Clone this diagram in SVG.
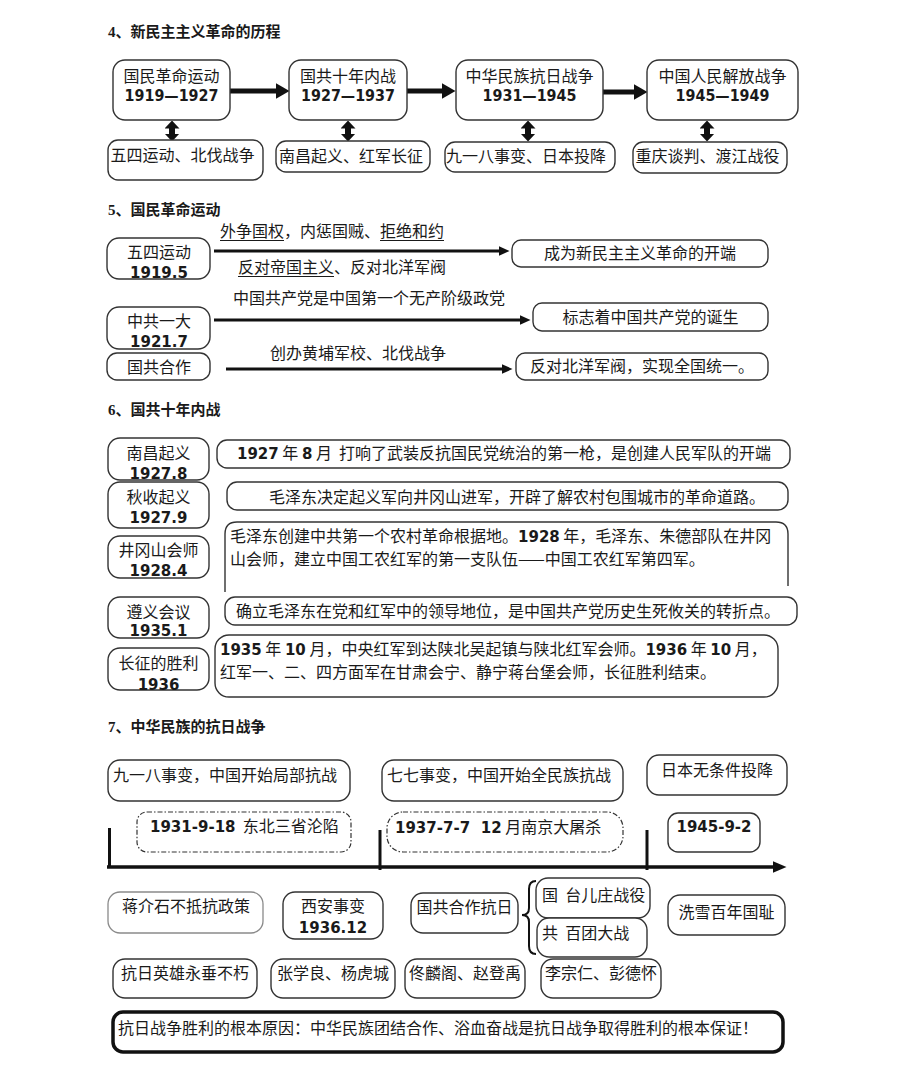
<svg xmlns="http://www.w3.org/2000/svg" width="900" height="1085" viewBox="0 0 900 1085">
<style>
.bg{fill:#ffffff}
.bx{fill:#ffffff;stroke:#333333;stroke-width:1.4}
.bl{fill:#ffffff;stroke:#8a8a8a;stroke-width:1.3}
.bd{fill:#ffffff;stroke:#333333;stroke-width:1.2;stroke-dasharray:5 2 1.5 2}
.bk{fill:#ffffff;stroke:#111111;stroke-width:3.5}
.c{font-family:"Noto Sans CJK SC",sans-serif;font-size:16px;fill:#1a1a1a}
.n{font-family:"DejaVu Sans","Noto Sans CJK SC",sans-serif;font-weight:bold;font-size:15px;fill:#1a1a1a}
.h{font-family:"Liberation Serif","Noto Sans CJK SC",serif;font-weight:bold;font-size:15px;fill:#1a1a1a}
.m{text-anchor:middle}
.ln{stroke:#111111;fill:none}
.ul{stroke:#1a1a1a;stroke-width:1.2}
</style>
<defs>
<marker id="big" viewBox="0 0 14 16" markerWidth="14" markerHeight="16" refX="0.5" refY="8" orient="auto" markerUnits="userSpaceOnUse"><path d="M0,0 L14,8 L0,16 z" fill="#111111"/></marker>
<marker id="dbl" viewBox="0 0 8 15" markerWidth="8" markerHeight="15" refX="0.5" refY="7.5" orient="auto-start-reverse" markerUnits="userSpaceOnUse"><path d="M0,0 L8,7.5 L0,15 z" fill="#111111"/></marker>
<marker id="sm" viewBox="0 0 11 10" markerWidth="11" markerHeight="10" refX="0.5" refY="5" orient="auto" markerUnits="userSpaceOnUse"><path d="M0,0 L11,5 L0,10 z" fill="#111111"/></marker>
<marker id="tl" viewBox="0 0 14 12" markerWidth="14" markerHeight="12" refX="0.5" refY="6" orient="auto" markerUnits="userSpaceOnUse"><path d="M0,0 L14,6 L0,12 z" fill="#111111"/></marker>
</defs>
<rect class="bg" x="0" y="0" width="900" height="1085"/>

<!-- Section 4 -->
<text class="h" x="108" y="37">4、新民主主义革命的历程</text>

<g id="connectors">
  <line class="ln" x1="230" y1="91" x2="276" y2="91" stroke-width="5" marker-end="url(#big)"/>
  <line class="ln" x1="407" y1="91" x2="442" y2="91" stroke-width="5" marker-end="url(#big)"/>
  <line class="ln" x1="603" y1="92" x2="634" y2="92" stroke-width="5" marker-end="url(#big)"/>
  <line class="ln" x1="172" y1="128" x2="172" y2="134" stroke-width="6" marker-start="url(#dbl)" marker-end="url(#dbl)"/>
  <line class="ln" x1="348" y1="128" x2="348" y2="134" stroke-width="6" marker-start="url(#dbl)" marker-end="url(#dbl)"/>
  <line class="ln" x1="528" y1="128" x2="528" y2="134" stroke-width="6" marker-start="url(#dbl)" marker-end="url(#dbl)"/>
  <line class="ln" x1="707" y1="128" x2="707" y2="134" stroke-width="6" marker-start="url(#dbl)" marker-end="url(#dbl)"/>
  <line class="ln" x1="214" y1="251" x2="499" y2="251" stroke-width="3" marker-end="url(#sm)"/>
  <line class="ln" x1="214" y1="320" x2="520" y2="320" stroke-width="3" marker-end="url(#sm)"/>
  <line class="ln" x1="226" y1="369" x2="502" y2="369" stroke-width="3" marker-end="url(#sm)"/>
  <line class="ln" x1="107" y1="867" x2="773" y2="867" stroke-width="3.5" marker-end="url(#tl)"/>
  <line class="ln" x1="109.5" y1="828" x2="109.5" y2="867" stroke-width="3"/>
  <line class="ln" x1="380" y1="830" x2="380" y2="870" stroke-width="3"/>
  <line class="ln" x1="647" y1="830" x2="647" y2="870" stroke-width="3"/>
  <path class="ln" stroke-width="2" d="M536,881 Q529,881 529,889 L529,908 Q529,915 522,915 Q529,915 529,922 L529,946 Q529,954 536,954"/>
</g>

<g id="n4-1"><rect class="bx" x="113" y="60" width="117" height="60" rx="12"/><text class="c m" x="171.5" y="82">国民革命运动</text><text class="n m" x="171.5" y="101" font-size="16" textLength="94" lengthAdjust="spacingAndGlyphs">1919—1927</text></g>
<g id="n4-2"><rect class="bx" x="289" y="60" width="118" height="60" rx="12"/><text class="c m" x="348" y="82">国共十年内战</text><text class="n m" x="348" y="101" font-size="16" textLength="94" lengthAdjust="spacingAndGlyphs">1927—1937</text></g>
<g id="n4-3"><rect class="bx" x="456" y="60" width="147" height="60" rx="12"/><text class="c m" x="529.5" y="82">中华民族抗日战争</text><text class="n m" x="529.5" y="101" font-size="16" textLength="94" lengthAdjust="spacingAndGlyphs">1931—1945</text></g>
<g id="n4-4"><rect class="bx" x="647" y="60" width="151" height="60" rx="12"/><text class="c m" x="722.5" y="82">中国人民解放战争</text><text class="n m" x="722.5" y="101" font-size="16" textLength="94" lengthAdjust="spacingAndGlyphs">1945—1949</text></g>
<g id="n4-1b"><rect class="bx" x="108" y="140" width="155" height="40" rx="10"/><text class="c m" x="182.5" y="161">五四运动、北伐战争</text></g>
<g id="n4-2b"><rect class="bx" x="276" y="141" width="154" height="31" rx="10"/><text class="c m" x="351" y="162">南昌起义、红军长征</text></g>
<g id="n4-3b"><rect class="bx" x="445" y="142" width="170" height="30" rx="10"/><text class="c m" x="526" y="162">九一八事变、日本投降</text></g>
<g id="n4-4b"><rect class="bx" x="633" y="142" width="154" height="31" rx="10"/><text class="c m" x="707.5" y="162">重庆谈判、渡江战役</text></g>

<!-- Section 5 -->
<text class="h" x="108" y="215">5、国民革命运动</text>

<g id="n5-l1"><rect class="bx" x="107" y="238" width="103" height="41" rx="12"/><text class="c m" x="159" y="258">五四运动</text><text class="n m" x="159" y="278">1919.5</text></g>
<g id="n5-l2"><rect class="bx" x="107" y="307" width="103" height="42" rx="12"/><text class="c m" x="159" y="327">中共一大</text><text class="n m" x="159" y="347">1921.7</text></g>
<g id="n5-l3"><rect class="bx" x="107" y="353" width="103" height="27" rx="10"/><text class="c m" x="159" y="372.5">国共合作</text></g>

<g id="n5-lab1"><text class="c" x="220" y="237">外争国权，内惩国贼、拒绝和约</text><line class="ul" x1="220" y1="240.5" x2="284" y2="240.5"/><line class="ul" x1="380" y1="240.5" x2="444" y2="240.5"/></g>
<g id="n5-lab2"><text class="c" x="238" y="273">反对帝国主义、反对北洋军阀</text><line class="ul" x1="238" y1="276.5" x2="334" y2="276.5"/></g>
<g id="n5-lab3"><text class="c" x="233" y="304">中国共产党是中国第一个无产阶级政党</text></g>
<g id="n5-lab4"><text class="c" x="270" y="359">创办黄埔军校、北伐战争</text></g>

<g id="n5-r1"><rect class="bx" x="512" y="240" width="256" height="27" rx="9"/><text class="c m" x="640" y="259">成为新民主主义革命的开端</text></g>
<g id="n5-r2"><rect class="bx" x="533" y="303" width="235" height="28" rx="9"/><text class="c m" x="650.5" y="322.5">标志着中国共产党的诞生</text></g>
<g id="n5-r3"><rect class="bx" x="516" y="353" width="252" height="27" rx="9"/><text class="c m" x="642" y="372">反对北洋军阀，实现全国统一。</text></g>

<!-- Section 6 -->
<text class="h" x="108" y="415">6、国共十年内战</text>

<g id="n6-l1"><rect class="bx" x="108" y="438" width="101" height="42" rx="12"/><text class="c m" x="158.5" y="459">南昌起义</text><text class="n m" x="158.5" y="479">1927.8</text></g>
<g id="n6-l2"><rect class="bx" x="108" y="482" width="101" height="46" rx="12"/><text class="c m" x="158.5" y="503">秋收起义</text><text class="n m" x="158.5" y="523">1927.9</text></g>
<g id="n6-l3"><rect class="bx" x="108" y="536" width="101" height="42" rx="12"/><text class="c m" x="158.5" y="556">井冈山会师</text><text class="n m" x="158.5" y="576">1928.4</text></g>
<g id="n6-l4"><rect class="bx" x="108" y="597" width="101" height="41" rx="12"/><text class="c m" x="158.5" y="618">遵义会议</text><text class="n m" x="158.5" y="636">1935.1</text></g>
<g id="n6-l5"><rect class="bx" x="108" y="648" width="101" height="42" rx="12"/><text class="c m" x="158.5" y="669">长征的胜利</text><text class="n m" x="158.5" y="690">1936</text></g>

<g id="n6-r1"><rect class="bx" x="217" y="440" width="573" height="28" rx="10"/><text class="c" x="237" y="459" xml:space="preserve"><tspan class="n">1927</tspan> 年 <tspan class="n">8</tspan> 月  打响了武装反抗国民党统治的第一枪，是创建人民军队的开端</text></g>
<g id="n6-r2"><rect class="bx" x="227" y="482" width="561" height="28" rx="10"/><text class="c m" x="517" y="503">毛泽东决定起义军向井冈山进军，开辟了解农村包围城市的革命道路。</text></g>
<g id="n6-r3"><path class="bx" fill="none" d="M225,592 L225,534 Q225,522 237,522 L776,522 Q788,522 788,534 L788,586"/><text class="c" x="230" y="542" font-size="15.6">毛泽东创建中共第一个农村革命根据地。<tspan class="n">1928</tspan> 年，毛泽东、朱德部队在井冈</text><text class="c" x="230" y="565" font-size="15.6">山会师，建立中国工农红军的第一支队伍——中国工农红军第四军。</text></g>
<g id="n6-r4"><rect class="bx" x="225" y="597" width="572" height="28" rx="10"/><text class="c m" x="508" y="617" font-size="15.7">确立毛泽东在党和红军中的领导地位，是中国共产党历史生死攸关的转折点。</text></g>
<g id="n6-r5"><rect class="bx" x="215" y="635" width="563" height="62" rx="14"/><text class="c" x="220" y="655" xml:space="preserve"><tspan class="n">1935</tspan> 年 <tspan class="n">10</tspan> 月，中央红军到达陕北吴起镇与陕北红军会师。<tspan class="n">1936</tspan> 年 <tspan class="n">10</tspan> 月，</text><text class="c" x="220" y="678">红军一、二、四方面军在甘肃会宁、静宁蒋台堡会师，长征胜利结束。</text></g>

<!-- Section 7 -->
<text class="h" x="108" y="732">7、中华民族的抗日战争</text>

<g id="n7-t1"><rect class="bx" x="108" y="760" width="242" height="41" rx="12"/><text class="c" x="113" y="781" font-size="16.5">九一八事变，中国开始局部抗战</text></g>
<g id="n7-t2"><rect class="bx" x="382" y="760" width="241" height="41" rx="12"/><text class="c" x="387" y="781">七七事变，中国开始全民族抗战</text></g>
<g id="n7-t3"><rect class="bx" x="647" y="755" width="140" height="40" rx="12"/><text class="c m" x="717" y="776">日本无条件投降</text></g>
<g id="n7-d1"><rect class="bd" x="137" y="812" width="214" height="40" rx="10"/><text class="c" x="150" y="832" xml:space="preserve"><tspan class="n">1931-9-18</tspan>  东北三省沦陷</text></g>
<g id="n7-d2"><rect class="bd" x="387" y="812" width="236" height="40" rx="16"/><text class="c" x="395" y="833" xml:space="preserve"><tspan class="n">1937-7-7</tspan>   <tspan class="n">12</tspan> 月南京大屠杀</text></g>
<g id="n7-d3"><rect class="bx" x="668" y="813" width="92" height="39" rx="10"/><text class="n m" x="714" y="832">1945-9-2</text></g>

<g id="n7-c1"><rect class="bl" x="108" y="892" width="155" height="41" rx="12"/><text class="c m" x="186" y="912">蒋介石不抵抗政策</text></g>
<g id="n7-c2"><rect class="bx" x="283" y="892" width="100" height="47" rx="12"/><text class="c m" x="333" y="912">西安事变</text><text class="n m" x="333" y="933">1936.12</text></g>
<g id="n7-c3"><rect class="bx" x="411" y="893" width="107" height="40" rx="12"/><text class="c m" x="464.5" y="913">国共合作抗日</text></g>
<g id="n7-c4"><rect class="bx" x="536" y="878" width="114" height="40" rx="12"/><text class="c" x="542" y="901" xml:space="preserve">国  台儿庄战役</text></g>
<g id="n7-c5"><rect class="bx" x="537" y="918" width="110" height="39" rx="12"/><text class="c" x="542" y="939" xml:space="preserve">共  百团大战</text></g>
<g id="n7-c6"><rect class="bx" x="668" y="895" width="117" height="40" rx="12"/><text class="c m" x="726.5" y="918">洗雪百年国耻</text></g>

<g id="n7-e1"><rect class="bx" x="113" y="959" width="144" height="39" rx="12"/><text class="c m" x="185" y="979">抗日英雄永垂不朽</text></g>
<g id="n7-e2"><rect class="bx" x="271" y="959" width="124" height="39" rx="12"/><text class="c m" x="333" y="979">张学良、杨虎城</text></g>
<g id="n7-e3"><rect class="bx" x="405" y="959" width="120" height="39" rx="12"/><text class="c m" x="465" y="979">佟麟阁、赵登禹</text></g>
<g id="n7-e4"><rect class="bx" x="541" y="959" width="120" height="39" rx="12"/><text class="c m" x="601" y="979">李宗仁、彭德怀</text></g>

<g id="n7-sum"><rect class="bk" x="113" y="1012" width="670" height="40" rx="10"/><text class="c" x="118" y="1034" font-size="16.5">抗日战争胜利的根本原因：中华民族团结合作、浴血奋战是抗日战争取得胜利的根本保证！</text></g>
</svg>
